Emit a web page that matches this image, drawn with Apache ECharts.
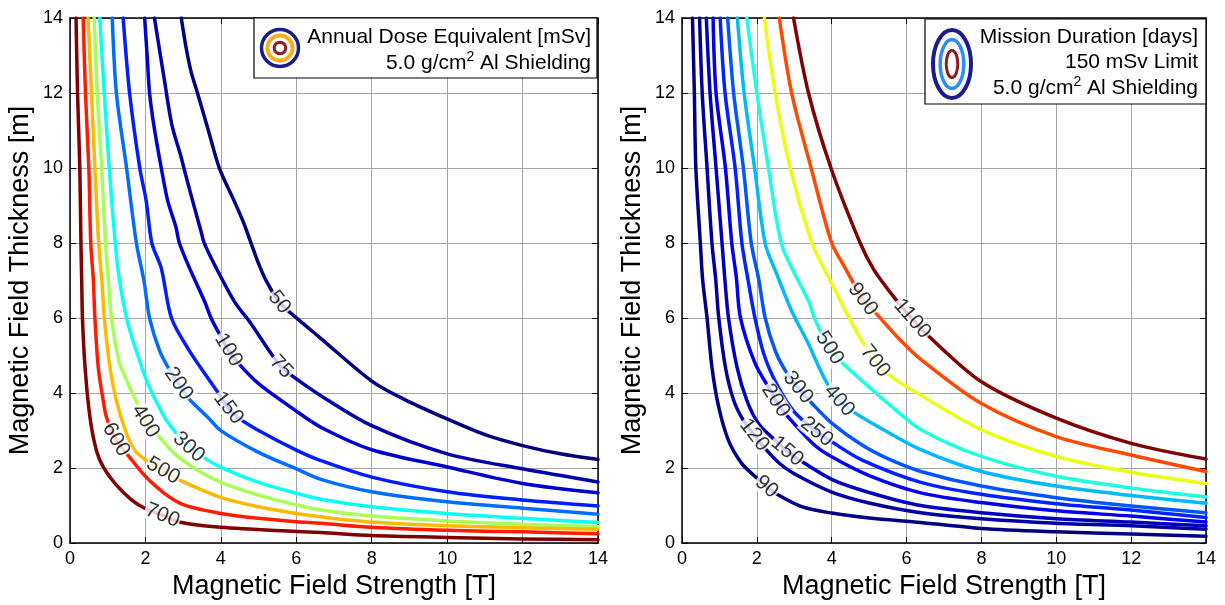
<!DOCTYPE html>
<html><head><meta charset="utf-8">
<script src="https://cdn.jsdelivr.net/npm/echarts@6/dist/echarts.min.js"></script>
<style>html,body{margin:0;padding:0;background:#fff}#c{width:1225px;height:605px}</style>
</head><body><div id="c"></div>
<script>
// ---------------- DATA ----------------
const axisTicks = [0, 2, 4, 6, 8, 10, 12, 14];

// Left panel: Annual Dose Equivalent [mSv] contours, [field T, thickness m]
const doseLevels = [50, 75, 100, 150, 200, 300, 400, 500, 600, 700];
const dose50  = [[2.95,14],[3.08,13.2],[3.21,12.57],[3.38,12],[3.65,11.07],[3.96,10],[4.35,9.13],[4.62,8.5],[4.8,8],[5.0,7.45],[5.2,7.0],[5.95,6.05],[6.6,5.5],[8,4.32],[8.85,3.84],[10,3.31],[11.06,2.87],[12,2.6],[13,2.38],[14,2.23]];
const dose75  = [[2.24,14],[2.51,12.3],[2.7,11.16],[2.95,10.28],[3.02,10],[3.25,9.13],[3.47,8.33],[3.56,8],[3.88,7.33],[4.36,6.44],[4.8,5.85],[5.3,5.1],[5.9,4.45],[6.65,3.93],[8,3.13],[10,2.38],[12,1.98],[14,1.63]];
const dose100 = [[1.98,14],[2.05,12.92],[2.11,12],[2.22,11.16],[2.42,10],[2.59,9.13],[2.81,8.42],[2.9,8],[3.17,7.33],[3.57,6.44],[3.74,6],[3.92,5.65],[4.45,4.81],[5,4.25],[6,3.52],[6.65,3.09],[8,2.49],[10,2.03],[12,1.59],[14,1.34]];
const dose150 = [[1.41,14],[1.58,12],[1.85,10],[2.02,9.13],[2.17,8],[2.42,7.33],[2.69,6],[3.17,5.12],[3.92,4.02],[4.45,3.35],[5,3],[6,2.48],[6.65,2.2],[8,1.76],[10,1.37],[12,1.15],[14,0.99]];
const dose200 = [[1.12,14],[1.23,12],[1.5,10],[1.76,8],[1.96,7],[2.11,6],[2.38,5.12],[2.65,4.6],[3.15,3.85],[3.66,3.35],[4,3],[5,2.42],[6,1.98],[6.65,1.7],[8,1.37],[10,1.1],[12,0.93],[14,0.77]];
const dose300 = [[0.79,14],[0.91,12],[1.04,10],[1.2,8],[1.3,7.1],[1.5,6],[1.76,5.12],[2.07,4.24],[2.51,3.35],[2.8,2.95],[3.52,2.3],[4,2.02],[5,1.62],[6,1.33],[6.65,1.17],[8,0.97],[10,0.79],[12,0.66],[14,0.55]];
const dose400 = [[0.64,14],[0.72,12],[0.84,10],[0.94,8],[1.02,7],[1.1,6],[1.3,4.85],[1.54,4.25],[1.76,3.78],[2.29,2.92],[2.78,2.38],[3.39,1.94],[4,1.62],[5,1.28],[6,1.02],[6.65,0.88],[8,0.72],[10,0.59],[12,0.5],[14,0.44]];
const dose500 = [[0.48,14],[0.57,12],[0.66,10],[0.76,8],[0.85,6.92],[0.91,6],[1.06,4.68],[1.23,3.8],[1.5,2.91],[1.72,2.47],[2.03,2.2],[2.91,1.68],[4,1.22],[5,0.97],[6,0.79],[6.65,0.7],[8,0.56],[10,0.46],[12,0.41],[14,0.37]];
const dose600 = [[0.35,14],[0.41,12],[0.5,10],[0.55,8],[0.62,7],[0.66,6],[0.75,4.68],[0.88,3.8],[0.97,3.35],[1.59,2.28],[1.98,1.8],[2.51,1.32],[3.04,1.01],[4,0.79],[5,0.66],[6,0.57],[6.65,0.53],[8,0.42],[10,0.34],[12,0.3],[14,0.25]];
const dose700 = [[0.16,14],[0.2,12],[0.26,10],[0.29,8],[0.31,7],[0.33,6],[0.4,4.68],[0.53,3.35],[0.7,2.47],[0.88,2.03],[1.19,1.59],[1.63,1.15],[1.98,0.93],[2.86,0.57],[4,0.42],[6,0.31],[6.65,0.28],[8,0.2],[10,0.15],[12,0.11],[14,0.09]];
const doseLabelPts = [[5.55,6.42],[5.6,4.7],[4.2,5.15],[4.2,3.6],[2.88,4.25],[3.15,2.56],[2.0,3.25],[2.47,1.93],[1.22,2.76],[2.45,0.74]];

// Right panel: Mission Duration [days] contours, [field T, thickness m]
const missionLevels = [90, 120, 150, 200, 250, 300, 400, 500, 700, 900, 1100];
const mission90   = [[0.28,14],[0.33,12],[0.37,10],[0.49,8],[0.55,7.04],[0.67,6],[0.8,4.69],[0.98,3.63],[1.24,2.74],[1.6,2.12],[1.96,1.77],[2.49,1.33],[3.2,0.97],[4,0.8],[5,0.67],[6.38,0.55],[8,0.39],[10,0.3],[12,0.24],[14,0.18]];
const mission120  = [[0.47,14],[0.54,12],[0.67,10],[0.8,8],[0.9,7.04],[0.98,6.02],[1.16,4.69],[1.38,3.81],[1.64,3.27],[2.18,2.57],[2.6,2.13],[3,1.85],[4,1.36],[5,1.07],[6.38,0.81],[8,0.65],[10,0.53],[12,0.46],[14,0.37]];
const mission150  = [[0.65,14],[0.75,12],[0.91,10],[1.07,8],[1.14,7.1],[1.24,6.02],[1.47,4.69],[1.73,3.81],[2.04,3.19],[2.49,2.74],[3.07,2.26],[4,1.7],[5,1.35],[6.38,1],[8,0.81],[10,0.65],[12,0.56],[14,0.46]];
const mission200  = [[0.83,14],[0.91,12],[1.16,10],[1.33,8],[1.45,7.1],[1.56,6.02],[1.95,4.8],[2.36,4.07],[2.76,3.45],[3.5,2.65],[4,2.3],[5,1.8],[6.38,1.34],[8,1.08],[10,0.86],[12,0.72],[14,0.56]];
const mission250  = [[1.02,14],[1.15,12],[1.42,10],[1.6,8],[1.76,7.04],[1.95,6],[2.2,5],[2.55,4.2],[3,3.5],[4,2.7],[4.8,2.22],[6.38,1.62],[8,1.3],[10,1.05],[12,0.88],[14,0.68]];
const mission300  = [[1.22,14],[1.38,12],[1.64,10],[1.85,8],[2.05,7.04],[2.22,6.02],[2.49,5.13],[2.76,4.6],[3.45,3.75],[4,3.2],[4.8,2.62],[5.5,2.25],[6.38,1.91],[8,1.52],[10,1.21],[12,0.99],[14,0.81]];
const mission400  = [[1.48,14],[1.66,12],[1.94,10],[2.22,8],[2.52,7.2],[2.93,6.19],[3.38,5.31],[3.8,4.4],[4.58,3.5],[5.16,3.15],[6.38,2.49],[8,1.91],[10,1.52],[12,1.27],[14,1.06]];
const mission500  = [[1.73,14],[2,12],[2.31,10],[2.65,8],[3,7.2],[3.38,6.46],[3.56,5.95],[4.27,4.82],[4.8,4.34],[5.51,3.72],[6.38,3.03],[8,2.31],[10,1.78],[12,1.47],[14,1.23]];
const mission700  = [[2.2,14],[2.49,12],[2.89,10],[3.47,8],[3.78,7.35],[4.09,6.75],[4.44,6.05],[4.8,5.4],[5.51,4.5],[6.38,3.94],[8,3.02],[10,2.31],[12,1.89],[14,1.59]];
const mission900  = [[2.6,14],[2.93,12],[3.45,10],[4,8],[4.35,7.35],[4.6,6.9],[5.16,6.15],[5.8,5.45],[6.38,4.9],[8,3.72],[10,2.84],[12,2.35],[14,1.91]];
const mission1100 = [[2.98,14],[3.38,12],[3.98,10],[4.76,8],[5.12,7.3],[5.6,6.64],[6.5,5.6],[8,4.3],[10,3.33],[12,2.66],[14,2.24]];
const missionLabelPts = [[2.26,1.5],[1.93,2.88],[2.81,2.45],[2.5,3.8],[3.6,2.97],[3.1,4.15],[4.2,3.8],[3.94,5.2],[5.16,4.85],[4.83,6.5],[6.15,5.98]];

// ---------------- STYLE ----------------
const FONT = '"Liberation Sans", Arial, sans-serif';
const doseColors = ['#000080','#0000A7','#0000CE','#001DFF','#006CFF','#0AFFF5','#A7FF58','#FFBA00','#FF1D00','#800000'];
const missionColors = ['#000080','#00009E','#0000BC','#0000EF','#0022FF','#0055FF','#00B9FF','#20FFDF','#EAFF15','#FF4A00','#800000'];
const doseCurves = [dose50, dose75, dose100, dose150, dose200, dose300, dose400, dose500, dose600, dose700];
const missionCurves = [mission90, mission120, mission150, mission200, mission250, mission300, mission400, mission500, mission700, mission900, mission1100];

function mergeLabel(curve, pt) {
  const arr = curve.slice();
  let i = 0;
  while (i < arr.length && arr[i][0] < pt[0]) i++;
  arr.splice(i, 0, pt);
  return { data: arr, idx: i };
}

function mkX(g, pos, main) {
  return {
    gridIndex: g, type: 'value', position: pos, min: 0, max: 14, interval: 2,
    name: main ? 'Magnetic Field Strength [T]' : '', nameLocation: 'middle', nameGap: 29,
    nameTextStyle: { color: '#000', fontSize: 27, fontFamily: FONT },
    axisLine: { show: true, onZero: false, lineStyle: { color: '#000', width: 1.5 } },
    axisTick: { show: true, inside: true, length: 6, lineStyle: { color: '#000', width: 1 } },
    axisLabel: { show: main, color: '#000', fontSize: 18, fontFamily: FONT, margin: 7,
      formatter: v => axisTicks.includes(v) ? String(v) : '' },
    splitLine: { show: main, lineStyle: { color: '#a6a6a6', width: 1 } }
  };
}
function mkY(g, pos, main) {
  return {
    gridIndex: g, type: 'value', position: pos, min: 0, max: 14, interval: 2,
    name: main ? 'Magnetic Field Thickness [m]' : '', nameLocation: 'middle', nameGap: 36,
    nameTextStyle: { color: '#000', fontSize: 27, fontFamily: FONT },
    axisLine: { show: true, onZero: false, lineStyle: { color: '#000', width: 1.5 } },
    axisTick: { show: true, inside: true, length: 6, lineStyle: { color: '#000', width: 1 } },
    axisLabel: { show: main, color: '#000', fontSize: 18, fontFamily: FONT, margin: 7,
      formatter: v => axisTicks.includes(v) ? String(v) : '' },
    splitLine: { show: main, lineStyle: { color: '#a6a6a6', width: 1 } }
  };
}

const panels = [
  { levels: doseLevels, curves: doseCurves, labels: doseLabelPts, colors: doseColors, axis: 0 },
  { levels: missionLevels, curves: missionCurves, labels: missionLabelPts, colors: missionColors, axis: 2 }
];

function buildSeries(rotations) {
  const series = [];
  const labelInfo = [];
  panels.forEach((p, pi) => {
    const labelData = [];
    p.curves.forEach((c, ci) => {
      const m = mergeLabel(c, p.labels[ci]);
      const sIdx = series.length;
      series.push({
        type: 'line', xAxisIndex: p.axis, yAxisIndex: p.axis, data: m.data,
        showSymbol: false, symbol: 'none', silent: true, animation: false, clip: true, z: 2,
        smooth: 0.3,
        lineStyle: { color: p.colors[ci], width: 3.5, cap: 'round', join: 'round' }
      });
      labelInfo.push({ sIdx, prev: m.data[m.idx - 1], next: m.data[m.idx + 1], key: pi + '_' + ci });
      const rot = rotations ? rotations[pi + '_' + ci] : 0;
      labelData.push({ name: String(p.levels[ci]), value: p.labels[ci], label: { rotate: rot } });
    });
    series.push({
      type: 'scatter', xAxisIndex: p.axis, yAxisIndex: p.axis, data: labelData,
      symbolSize: 1, itemStyle: { color: 'rgba(0,0,0,0)' }, silent: true, animation: false, z: 5,
      label: { show: true, position: 'inside', formatter: '{b}', color: '#000', fontSize: 21,
        fontFamily: FONT, backgroundColor: '#fff', padding: [-1, 1] }
    });
  });
  return { series, labelInfo };
}

const supRich = { sup: { fontSize: 14, fontFamily: FONT, verticalAlign: 'top', lineHeight: 14, fill: '#000' } };
const graphics = [
  { type: 'rect', z: 100, shape: { x: 254, y: 18, width: 343, height: 60 }, style: { fill: '#fff', stroke: '#000', lineWidth: 1.2 } },
  { type: 'circle', z: 101, shape: { cx: 280, cy: 48, r: 18.5 }, style: { fill: 'none', stroke: '#1c1c8a', lineWidth: 3.5 } },
  { type: 'circle', z: 101, shape: { cx: 280, cy: 48, r: 12.5 }, style: { fill: 'none', stroke: '#f5b022', lineWidth: 4 } },
  { type: 'circle', z: 101, shape: { cx: 280, cy: 48, r: 5.8 }, style: { fill: 'none', stroke: '#8b1c1c', lineWidth: 3 } },
  { type: 'text', z: 101, x: 591, y: 37, style: { text: 'Annual Dose Equivalent [mSv]', font: '21px ' + FONT, fill: '#000', textAlign: 'right', textVerticalAlign: 'middle', align: 'right', verticalAlign: 'middle' } },
  { type: 'text', z: 101, x: 591, y: 63, style: { text: '5.0 g/cm{sup|2} Al Shielding', font: '21px ' + FONT, fill: '#000', lineHeight: 26, textAlign: 'right', textVerticalAlign: 'middle', align: 'right', verticalAlign: 'middle',
      rich: supRich } },

  { type: 'rect', z: 100, shape: { x: 925, y: 19, width: 281, height: 85 }, style: { fill: '#fff', stroke: '#000', lineWidth: 1.2 } },
  { type: 'ellipse', z: 101, shape: { cx: 952, cy: 64, rx: 19, ry: 34 }, style: { fill: 'none', stroke: '#1c1c8a', lineWidth: 4 } },
  { type: 'ellipse', z: 101, shape: { cx: 952, cy: 64, rx: 11.8, ry: 24.5 }, style: { fill: 'none', stroke: '#2b8ef0', lineWidth: 3.5 } },
  { type: 'ellipse', z: 101, shape: { cx: 952, cy: 64, rx: 5.8, ry: 13.5 }, style: { fill: 'none', stroke: '#8b1c1c', lineWidth: 3 } },
  { type: 'text', z: 101, x: 1198, y: 37, style: { text: 'Mission Duration [days]', font: '21px ' + FONT, fill: '#000', textAlign: 'right', textVerticalAlign: 'middle', align: 'right', verticalAlign: 'middle' } },
  { type: 'text', z: 101, x: 1198, y: 62, style: { text: '150 mSv Limit', font: '21px ' + FONT, fill: '#000', textAlign: 'right', textVerticalAlign: 'middle', align: 'right', verticalAlign: 'middle' } },
  { type: 'text', z: 101, x: 1198, y: 88, style: { text: '5.0 g/cm{sup|2} Al Shielding', font: '21px ' + FONT, fill: '#000', lineHeight: 26, textAlign: 'right', textVerticalAlign: 'middle', align: 'right', verticalAlign: 'middle',
      rich: supRich } }
];

function buildOption(rotations) {
  const b = buildSeries(rotations);
  return {
    opt: {
      backgroundColor: '#fff',
      animation: false,
      textStyle: { fontFamily: FONT },
      grid: [
        { left: 70, top: 18, width: 528, height: 528, containLabel: false },
        { left: 682, top: 18, width: 524, height: 528, containLabel: false }
      ],
      xAxis: [mkX(0, 'bottom', true), mkX(0, 'top', false), mkX(1, 'bottom', true), mkX(1, 'top', false)],
      yAxis: [mkY(0, 'left', true), mkY(0, 'right', false), mkY(1, 'left', true), mkY(1, 'right', false)],
      graphic: { elements: graphics },
      series: b.series
    },
    labelInfo: b.labelInfo
  };
}

const chart = echarts.init(document.getElementById('c'), null, { renderer: 'canvas' });
const first = buildOption(null);
chart.setOption(first.opt);
const rotations = {};
first.labelInfo.forEach(li => {
  const a = chart.convertToPixel({ seriesIndex: li.sIdx }, li.prev);
  const bpx = chart.convertToPixel({ seriesIndex: li.sIdx }, li.next);
  let ang = -Math.atan2(bpx[1] - a[1], bpx[0] - a[0]) * 180 / Math.PI;
  rotations[li.key] = Math.round(ang);
});
chart.setOption(buildOption(rotations).opt, true);
</script>
</body></html>
